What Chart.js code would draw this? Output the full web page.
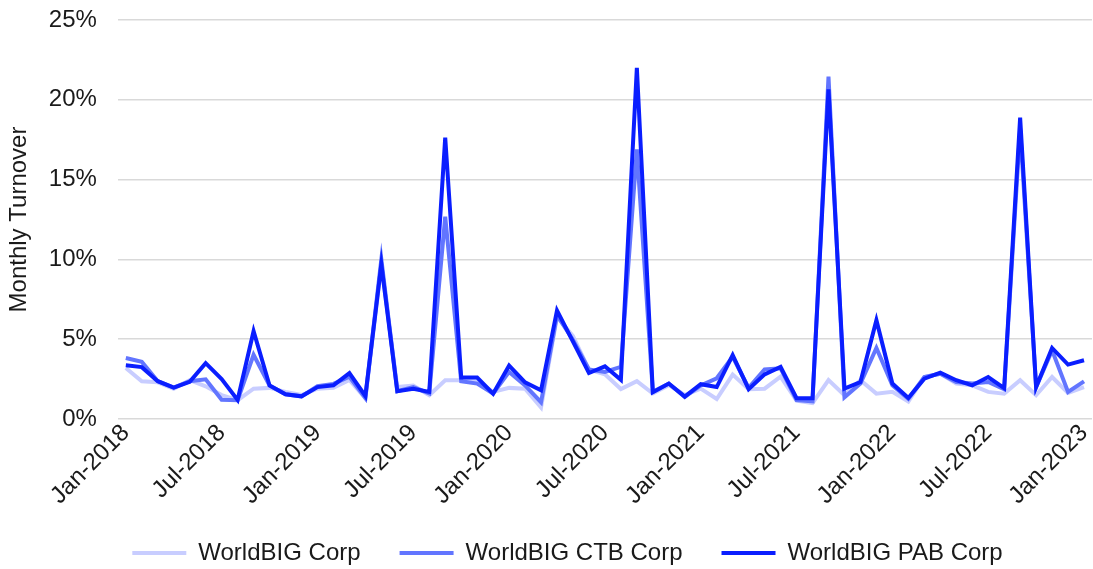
<!DOCTYPE html>
<html>
<head>
<meta charset="utf-8">
<script src="https://cdn.jsdelivr.net/npm/chart.js@4"></script>
<style>
  html, body { margin: 0; padding: 0; background: #fff; }
  #wrap { width: 1093px; height: 569px; position: relative; }
</style>
</head>
<body>
<div id="wrap"><canvas id="turnoverChart"></canvas></div>
<script>
// --- Data (monthly, Jan-2018 .. Jan-2023), values in % ---
const months = [
  'Jan-2018','Feb-2018','Mar-2018','Apr-2018','May-2018','Jun-2018','Jul-2018','Aug-2018','Sep-2018','Oct-2018','Nov-2018','Dec-2018',
  'Jan-2019','Feb-2019','Mar-2019','Apr-2019','May-2019','Jun-2019','Jul-2019','Aug-2019','Sep-2019','Oct-2019','Nov-2019','Dec-2019',
  'Jan-2020','Feb-2020','Mar-2020','Apr-2020','May-2020','Jun-2020','Jul-2020','Aug-2020','Sep-2020','Oct-2020','Nov-2020','Dec-2020',
  'Jan-2021','Feb-2021','Mar-2021','Apr-2021','May-2021','Jun-2021','Jul-2021','Aug-2021','Sep-2021','Oct-2021','Nov-2021','Dec-2021',
  'Jan-2022','Feb-2022','Mar-2022','Apr-2022','May-2022','Jun-2022','Jul-2022','Aug-2022','Sep-2022','Oct-2022','Nov-2022','Dec-2022',
  'Jan-2023'
];

const corpTurnover = [
  3.2, 2.37, 2.3, 1.9, 2.43, 2.05, 1.5, 1.18, 1.9, 1.95, 1.7, 1.5,
  1.9, 1.95, 2.45, 1.3, 9.6, 2.0, 2.1, 1.49, 2.43, 2.43, 2.36, 1.7,
  1.95, 1.9, 0.72, 6.4, 5.2, 3.1, 2.8, 1.88, 2.37, 1.6, 2.12, 1.5,
  1.9, 1.25, 2.78, 1.87, 1.9, 2.65, 1.15, 1.0, 2.44, 1.49, 2.43, 1.59,
  1.7, 1.1, 2.63, 2.84, 2.22, 2.11, 1.7, 1.59, 2.43, 1.49, 2.63, 1.64,
  2.0
];

const ctbTurnover = [
  3.82, 3.58, 2.37, 1.97, 2.37, 2.49, 1.2, 1.18, 4.02, 2.1, 1.55, 1.42,
  2.05, 2.2, 2.65, 1.32, 10.0, 1.74, 2.0, 1.6, 12.67, 2.36, 2.22, 1.6,
  2.95, 2.1, 1.05, 6.5, 4.95, 3.1, 2.95, 3.27, 16.9, 1.7, 2.22, 1.38,
  2.1, 2.55, 3.9, 1.95, 3.1, 3.18, 1.19, 1.1, 21.45, 1.36, 2.22, 4.45,
  2.11, 1.27, 2.63, 2.84, 2.32, 2.22, 2.32, 1.86, 18.2, 2.0, 4.3, 1.7,
  2.36
];

const pabTurnover = [
  3.37, 3.25, 2.37, 1.97, 2.33, 3.5, 2.5, 1.2, 5.5, 2.1, 1.55, 1.42,
  2.0, 2.11, 2.87, 1.44, 9.7, 1.74, 1.9, 1.7, 17.63, 2.6, 2.6, 1.59,
  3.35, 2.3, 1.8, 6.8, 4.85, 2.88, 3.3, 2.45, 22.0, 1.68, 2.22, 1.4,
  2.18, 2.0, 4.0, 1.87, 2.8, 3.26, 1.3, 1.3, 20.65, 1.9, 2.32, 6.19,
  2.22, 1.32, 2.53, 2.9, 2.43, 2.11, 2.63, 1.94, 18.88, 2.0, 4.45, 3.41,
  3.68
];

const seriesNames = ['WorldBIG Corp', 'WorldBIG CTB Corp', 'WorldBIG PAB Corp'];
const yTicks = [0, 5, 10, 15, 20, 25];

// --- Chart setup ---
const fontFamily = '"Liberation Sans", Arial, sans-serif';
const textColor = '#1a1a1a';
const fontSize = 24;

function lineSet(label, data, color, order) {
  return {
    label: label,
    data: data,
    borderColor: color,
    backgroundColor: color,
    borderWidth: 4,
    pointRadius: 0,
    pointStyle: 'line',
    tension: 0,
    fill: false,
    order: order
  };
}

// the legend sits partly under the rotated month labels, as in the original
const legendNudge = {
  id: 'legendNudge',
  afterLayout(chart) {
    const lg = chart.legend;
    if (!lg) return;
    const h = lg.bottom - lg.top;
    lg.top = 502;
    lg.bottom = lg.top + h;
    lg.left += 19;
    lg.right += 19;
  }
};

const ctx = document.getElementById('turnoverChart').getContext('2d');
new Chart(ctx, {
  type: 'line',
  data: {
    labels: months,
    datasets: [
      lineSet(seriesNames[0], corpTurnover, '#C8CDFF', 3),
      lineSet(seriesNames[1], ctbTurnover, '#6275FF', 2),
      lineSet(seriesNames[2], pabTurnover, '#0A1EFF', 1)
    ]
  },
  plugins: [legendNudge],
  options: {
    responsive: true,
    maintainAspectRatio: false,
    animation: false,
    layout: { padding: { left: 5, right: 1, top: 0, bottom: -23 } },
    scales: {
      x: {
        offset: true,
        grid: { display: false, drawTicks: false },
        border: { display: false },
        afterFit: (scale) => { scale.height = 100; scale.paddingLeft = 0; scale.paddingRight = 0; },
        ticks: {
          autoSkip: false,
          maxRotation: 45,
          minRotation: 45,
          padding: 0,
          color: textColor,
          font: { family: fontFamily, size: fontSize },
          callback: (v, i) => (i % 6 === 0 ? months[i] : '')
        }
      },
      y: {
        min: yTicks[0],
        max: yTicks[yTicks.length - 1],
        afterBuildTicks: (axis) => { axis.ticks = yTicks.map(v => ({ value: v })); },
        afterFit: (scale) => { scale.paddingTop = 20; scale.width -= 21; },
        grid: { color: '#d9d9d9', lineWidth: 1.5, drawTicks: false },
        border: { display: false },
        ticks: {
          padding: 21,
          color: textColor,
          font: { family: fontFamily, size: fontSize },
          callback: v => v + '%'
        },
        title: {
          display: true,
          text: 'Monthly Turnover',
          color: textColor,
          padding: { top: 0, bottom: 15 },
          font: { family: fontFamily, size: fontSize }
        }
      }
    },
    plugins: {
      legend: {
        position: 'bottom',
        reverse: true,
        labels: {
          usePointStyle: true,
          pointStyleWidth: 54,
          padding: 39,
          color: textColor,
          font: { family: fontFamily, size: fontSize }
        }
      },
      tooltip: { enabled: false }
    }
  }
});
</script>
</body>
</html>
